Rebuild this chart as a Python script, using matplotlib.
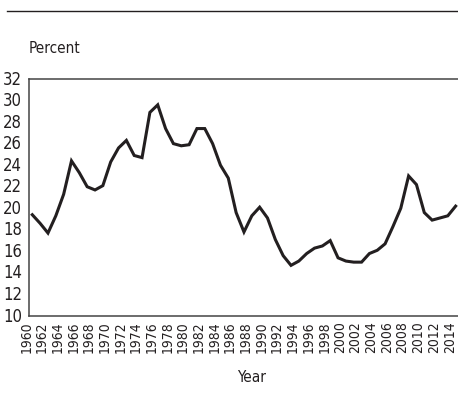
import matplotlib
matplotlib.use('Agg')
import matplotlib.pyplot as plt
from matplotlib.lines import Line2D
from matplotlib.transforms import ScaledTranslation

plt.rcParams['font.family'] = ['DejaVu Sans']
plt.rcParams['font.stretch'] = 'condensed'

years = list(range(1960, 2015))
percent = [
    19.4, 18.6, 17.7, 19.3, 21.3, 24.4, 23.3, 22.0, 21.7, 22.1,
    24.3, 25.6, 26.3, 24.9, 24.7, 28.9, 29.6, 27.4, 26.0, 25.8,
    25.9, 27.4, 27.4, 26.0, 24.0, 22.8, 19.6, 17.8, 19.3, 20.1,
    19.1, 17.1, 15.6, 14.7, 15.1, 15.8, 16.3, 16.5, 17.0, 15.4,
    15.1, 15.0, 15.0, 15.8, 16.1, 16.7, 18.3, 20.0, 23.0, 22.2,
    19.6, 18.9, 19.1, 19.3, 20.2,
]
y_ticks = list(range(10, 33, 2))
x_ticks = list(range(1960, 2015, 2))

fig = plt.figure(figsize=(4.58, 4.02), dpi=100)
ax = fig.add_axes([29/458, 1-317/402, 1-29/458, (317-80)/402])

ax.plot(years, percent, color='#231f20', linewidth=2.2, solid_joinstyle='miter')

ax.set_xlim(1959.58, 2014.3)
ax.set_ylim(10, 32)
ax.set_yticks(y_ticks)
ax.set_xticks(x_ticks)
ax.set_xticklabels([str(y) for y in x_ticks], rotation=90)
ax.tick_params(axis='y', length=0, pad=5, labelsize=12, colors='#231f20')
ax.tick_params(axis='x', length=0, pad=3, labelsize=10, colors='#231f20')

# labels in the original sit a few px left / up of their ticks
for lab in ax.get_xticklabels():
    lab.set_transform(lab.get_transform() + ScaledTranslation(-0.06, 0, fig.dpi_scale_trans))
for lab in ax.get_yticklabels():
    lab.set_transform(lab.get_transform() + ScaledTranslation(0, 0.025, fig.dpi_scale_trans))

ax.spines['right'].set_visible(False)
for s in ['left', 'bottom', 'top']:
    ax.spines[s].set_color('#444444')
    ax.spines[s].set_linewidth(1.1)

ax.set_xlabel('Year', fontsize=11, labelpad=12, color='#231f20')
ax.xaxis.label.set_x(0.519)
fig.text(29/458, 1-49/402, 'Percent', fontsize=11, va='center', ha='left', color='#231f20')

fig.add_artist(Line2D([7/458, 1], [1-12/402, 1-12/402], color='#231f20', linewidth=1.0))

fig.savefig('out.png', dpi=100)
